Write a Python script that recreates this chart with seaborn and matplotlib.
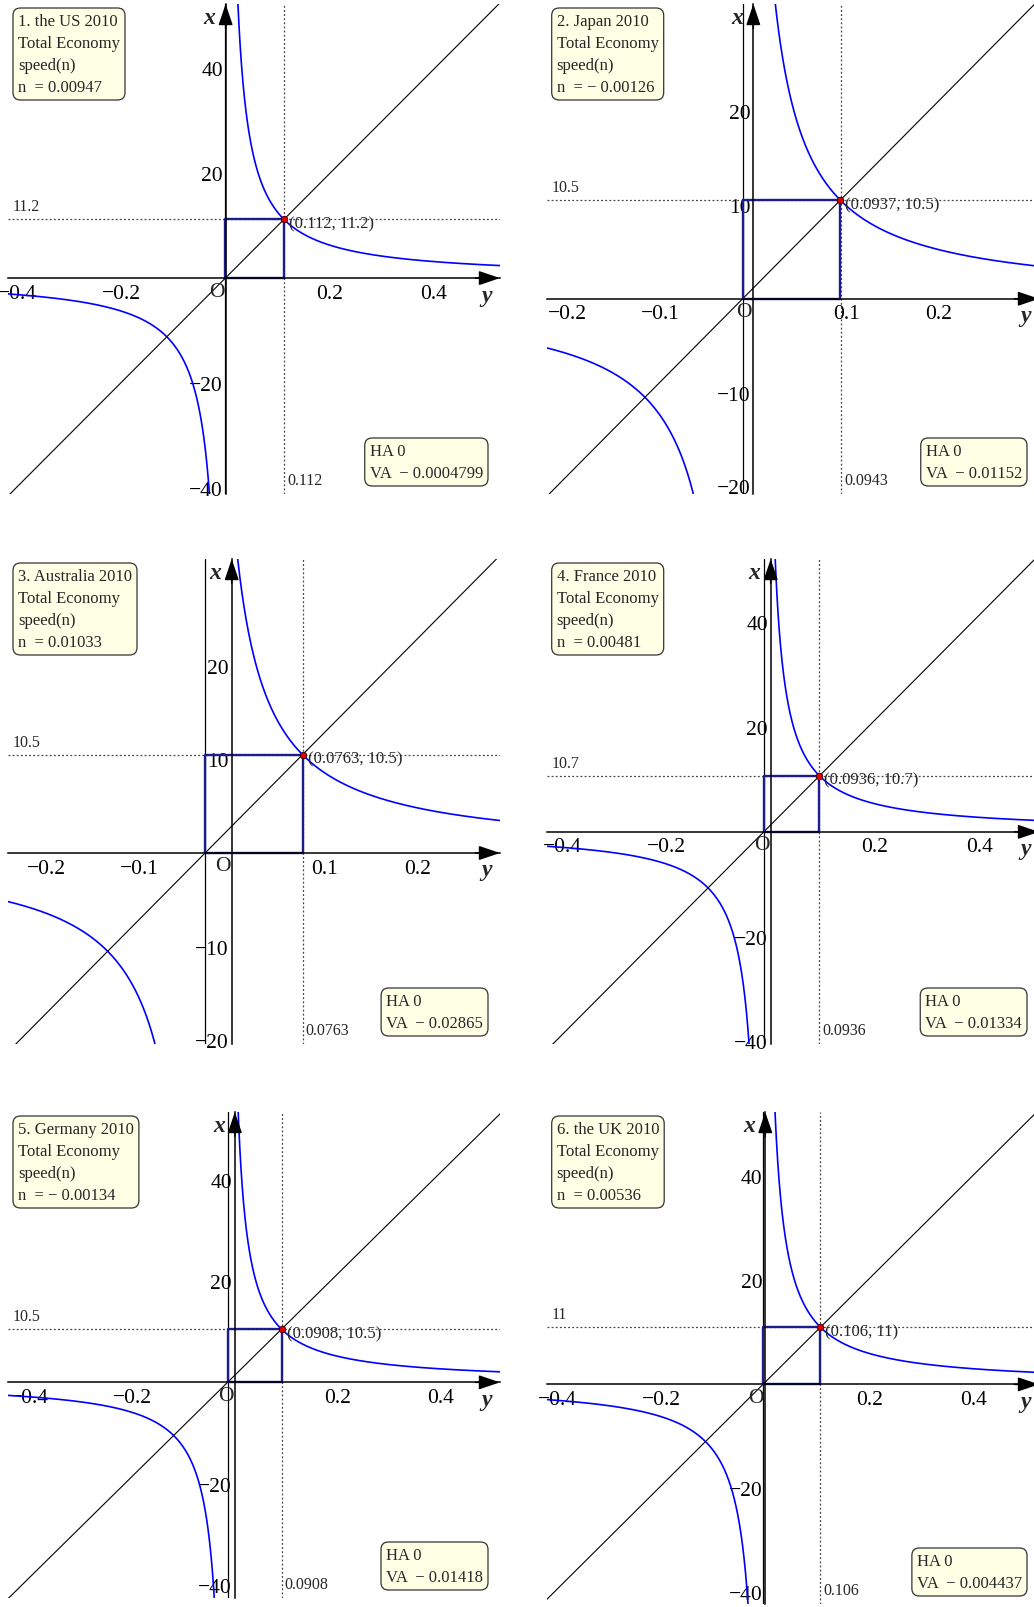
import numpy as np
import seaborn as sns
import matplotlib.pyplot as plt

# values
titles = ["1. the US 2010", "2. Japan 2010", "3. Australia 2010",
          "4. France 2010", "5. Germany 2010", "6. the UK 2010"]
n_text = ["0.00947", " \u2212 0.00126", "0.01033", "0.00481", " \u2212 0.00134", "0.00536"]
point_y = [0.112, 0.0937, 0.0763, 0.0936, 0.0908, 0.106]
point_x = [11.2, 10.5, 10.5, 10.7, 10.5, 11]
point_lbl = ["(0.112, 11.2)", "(0.0937, 10.5)", "(0.0763, 10.5)",
             "(0.0936, 10.7)", "(0.0908, 10.5)", "(0.106, 11)"]
hline_lbl = ["11.2", "10.5", "10.5", "10.7", "10.5", "11"]
vline_val = [0.112, 0.0943, 0.0763, 0.0936, 0.0908, 0.106]
vline_lbl = ["0.112", "0.0943", "0.0763", "0.0936", "0.0908", "0.106"]
ha_val = [0, 0, 0, 0, 0, 0]
va_val = [-0.0004799, -0.01152, -0.02865, -0.01334, -0.01418, -0.004437]
va_lbl = ["0.0004799", "0.01152", "0.02865", "0.01334", "0.01418", "0.004437"]
yticks = [[-0.4, -0.2, 0.2, 0.4], [-0.2, -0.1, 0.1, 0.2], [-0.2, -0.1, 0.1, 0.2],
          [-0.4, -0.2, 0.2, 0.4], [-0.4, -0.2, 0.2, 0.4], [-0.4, -0.2, 0.2, 0.4]]
xticks = [[-40, -20, 20, 40], [-20, -10, 10, 20], [-20, -10, 10, 20],
          [-40, -20, 20, 40], [-40, -20, 20, 40], [-40, -20, 20, 40]]

# layout: panel boxes in pixels (left, right, top, bottom) and their ranges
boxes = [(8, 500, 5, 495), (546.7, 1039, 5, 495),
         (8, 500, 560, 1045), (546.7, 1039, 560, 1045),
         (8, 500, 1113, 1599), (546.7, 1039, 1113, 1605)]
hlims = [(-0.418, 0.527), (-0.2226, 0.3077), (-0.241, 0.289),
         (-0.430, 0.515), (-0.4415, 0.516), (-0.420, 0.526)]
vlims = [(-41.2, 52.3), (-20.8, 31.4), (-20.4, 31.4),
         (-40.5, 52.1), (-42.6, 53.4), (-42.25, 52.4)]

W, H = 1034, 1608
sns.set_theme(style="white")
plt.rcParams["font.family"] = ["Liberation Serif", "DejaVu Serif"]

fig = plt.figure(figsize=(W / 100, H / 100), dpi=100, facecolor="white")


def fmt(v):
    return f"{v:g}".replace("-", "\u2212")


for i in range(6):
    l, r, t, b = boxes[i]
    ax = fig.add_axes([l / W, 1 - b / H, (r - l) / W, (b - t) / H])
    ax.set_facecolor("none")
    y0, y1 = hlims[i]
    x0, x1 = vlims[i]
    va, py, px = va_val[i], point_y[i], point_x[i]
    c = px * (py - va)

    # hyperbola x = c / (y - VA) + HA, two branches
    u_up = np.geomspace(c / (x1 * 1.2), y1 - va, 400)
    u_lo = -np.geomspace(c / (-x0 * 1.2), va - y0, 400)
    for u in (u_up, u_lo):
        sns.lineplot(x=va + u, y=c / u + ha_val[i], sort=False, estimator=None,
                     color="#0000ff", lw=1.2, ax=ax)

    # 45 degree line through (VA, 0) and the point
    m = px / (py - va)
    sns.lineplot(x=[y0, y1], y=[m * (y0 - va), m * (y1 - va)], sort=False,
                 estimator=None, color="black", lw=0.8, ax=ax)

    # asymptote line and dotted guides
    ax.axvline(va, color="black", lw=0.9)
    ax.axhline(px, color="#444444", lw=0.9, ls=(0, (1.5, 1.8)))
    ax.axvline(vline_val[i], color="#444444", lw=0.9, ls=(0, (1.5, 1.8)))

    # box from VA to the point
    sns.lineplot(x=[va, va, py, py, va], y=[0, px, px, 0, 0], sort=False,
                 estimator=None, color="#1c1c8c", lw=1.7, ax=ax)
    ax.scatter([py], [px], s=22, color="#e00000", edgecolor="#300000",
               linewidth=0.6, zorder=5)

    ax.set_xlim(y0, y1)
    ax.set_ylim(x0, x1)
    for s in ("top", "right"):
        ax.spines[s].set_visible(False)
    for s in ("left", "bottom"):
        ax.spines[s].set_position(("data", 0))
        ax.spines[s].set_color("black")
        ax.spines[s].set_linewidth(1.1)
    ax.set_xticks(yticks[i], [fmt(v) for v in yticks[i]])
    ax.set_yticks(xticks[i], [fmt(v) for v in xticks[i]])
    ax.tick_params(axis="both", direction="in", length=4, width=0.9,
                   labelsize=15.5, colors="black")
    ax.tick_params(axis="x", pad=4)
    ax.tick_params(axis="y", pad=2)
    for lab in ax.get_xticklabels():
        lab.set_clip_on(True)
    ax.grid(False)

    # arrows on the axes
    ap = dict(arrowstyle="-|>,head_length=0.65,head_width=0.22", color="black",
              lw=1.1, shrinkA=0, shrinkB=0, mutation_scale=20)
    ax.annotate("", xy=(1, 0), xycoords=("axes fraction", "data"),
                xytext=(0.95, 0), textcoords=("axes fraction", "data"), arrowprops=ap)
    ax.annotate("", xy=(0, 1), xycoords=("data", "axes fraction"),
                xytext=(0, 0.95), textcoords=("data", "axes fraction"), arrowprops=ap)
    ax.annotate("x", xy=(0, 1), xycoords=("data", "axes fraction"),
                xytext=(-16, -14), textcoords="offset pixels", ha="center",
                va="center", fontsize=17, fontweight="bold", fontstyle="italic")
    ax.annotate("y", xy=(1, 0), xycoords=("axes fraction", "data"),
                xytext=(-13, -17), textcoords="offset pixels", ha="center",
                va="center", fontsize=17, fontweight="bold", fontstyle="italic")
    ax.annotate("O", xy=(0, 0), xytext=(-9, -13), textcoords="offset pixels",
                ha="center", va="center", fontsize=15.5)

    # labels of the guides and the point
    ax.annotate(hline_lbl[i], xy=(0, px), xycoords=("axes fraction", "data"),
                xytext=(5, 5), textcoords="offset pixels", ha="left",
                va="bottom", fontsize=11.5)
    ax.annotate(vline_lbl[i], xy=(vline_val[i], 0), xycoords=("data", "axes fraction"),
                xytext=(3, 14), textcoords="offset pixels", ha="left",
                va="center", fontsize=11.5)
    ax.annotate(point_lbl[i], xy=(py, px), xytext=(5, -4), textcoords="offset pixels",
                ha="left", va="center", fontsize=12)

    box = dict(boxstyle="round,pad=0.3,rounding_size=0.45", fc="#ffffe6",
               ec="#333333", lw=0.9)
    n_str = n_text[i] if n_text[i].startswith(" ") else " " + n_text[i]
    ax.annotate(f"{titles[i]}\nTotal Economy\nspeed(n)\nn  ={n_str}",
                xy=(0, 1), xycoords="axes fraction", xytext=(10, -9),
                textcoords="offset pixels", ha="left", va="top", fontsize=12,
                linespacing=1.5, bbox=box, zorder=6)
    ax.annotate(f"HA {ha_val[i]}\nVA  \u2212 {va_lbl[i]}", xy=(1, 0),
                xycoords="axes fraction", xytext=(-17, 13), textcoords="offset pixels",
                ha="right", va="bottom", multialignment="left", fontsize=12,
                linespacing=1.5, bbox=box, zorder=6)

fig.savefig("out.png", dpi=100)
